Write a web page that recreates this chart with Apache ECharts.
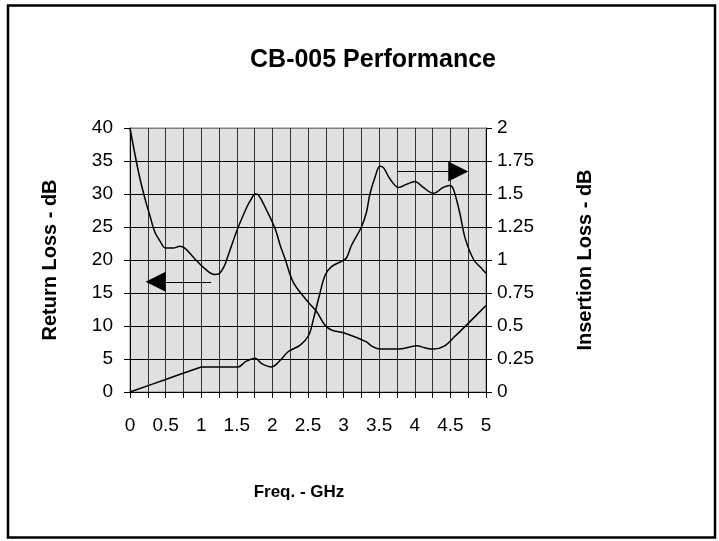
<!DOCTYPE html>
<html>
<head>
<meta charset="utf-8">
<script src="https://cdn.jsdelivr.net/npm/echarts@6/dist/echarts.min.js"></script>
<style>
  html, body { margin: 0; padding: 0; background: #fff; }
  #chart { width: 719px; height: 541px; }
</style>
</head>
<body>
<div id="chart"></div>
<script>
// Return loss (left axis, dB): [GHz, dB]
var returnLoss = [
  [0, 40], [0.12, 33.3], [0.21, 29.3], [0.28, 26.7], [0.35, 24.2], [0.42, 22.9],
  [0.5, 21.8], [0.61, 21.8], [0.7, 22.1], [0.77, 21.8], [0.9, 20.3], [1.05, 18.7],
  [1.19, 17.8], [1.26, 18.0], [1.33, 19.2], [1.36, 20.1], [1.51, 24.7], [1.64, 28.0],
  [1.69, 29.0], [1.76, 30.0], [1.8, 29.9], [1.92, 27.5], [2.04, 24.7], [2.11, 22.2],
  [2.18, 20.1], [2.29, 16.7], [2.48, 13.9], [2.62, 12.2], [2.74, 10.1], [2.83, 9.4],
  [3.02, 8.9], [3.32, 7.6], [3.39, 7.0], [3.51, 6.5], [3.77, 6.5], [4.03, 7.0],
  [4.14, 6.7], [4.26, 6.5], [4.42, 7.0], [4.56, 8.4], [4.75, 10.4], [5, 13.1]
];

// Insertion loss (right axis, dB): [GHz, dB]
var insertionLoss = [
  [0, 0], [0.5, 0.095], [0.95, 0.18], [1.01, 0.19], [1.52, 0.19], [1.59, 0.215],
  [1.62, 0.23], [1.76, 0.255], [1.85, 0.215], [1.99, 0.19], [2.11, 0.24], [2.22, 0.305],
  [2.39, 0.355], [2.51, 0.43], [2.58, 0.56], [2.65, 0.71], [2.74, 0.885], [2.83, 0.95],
  [2.97, 0.99], [3.04, 1.015], [3.11, 1.11], [3.25, 1.25], [3.32, 1.36], [3.37, 1.5],
  [3.44, 1.625], [3.51, 1.71], [3.56, 1.7], [3.65, 1.615], [3.77, 1.55], [3.89, 1.575],
  [4.0, 1.595], [4.12, 1.55], [4.26, 1.505], [4.4, 1.55], [4.49, 1.565], [4.54, 1.54],
  [4.63, 1.36], [4.71, 1.16], [4.83, 1.0], [4.94, 0.935], [5, 0.9]
];

// arrows pointing at the axis each curve belongs to (left-axis dB units)
var leftArrow = [[1.14, 16.7], [0.36, 16.7]];
var rightArrow = [[3.75, 33.4], [4.61, 33.4]];

var chart = echarts.init(document.getElementById("chart"));
var font = "Liberation Sans, Arial, sans-serif";

var leftSplitColors = ["#000", "#000", "#000", "#000", "#000", "#000", "#000", "#000", "#808080"];

var option = {
  animation: false,
  textStyle: { fontFamily: font, color: "#000" },
  title: {
    text: "CB-005 Performance",
    left: 368,
    top: 43,
    textAlign: "center",
    textStyle: { fontFamily: font, fontSize: 25, fontWeight: "bold", color: "#000" }
  },
  graphic: [
    {
      type: "rect",
      shape: { x: 8, y: 5.5, width: 707, height: 532 },
      style: { fill: "none", stroke: "#000", lineWidth: 2.5 },
      silent: true
    }
  ],
  grid: {
    left: 130,
    right: 233,
    top: 128,
    bottom: 149,
    show: true,
    backgroundColor: "#e0e0e0",
    borderColor: "#808080",
    borderWidth: 1
  },
  xAxis: {
    type: "value",
    min: 0,
    max: 5,
    interval: 0.25,
    name: "Freq. - GHz",
    nameLocation: "middle",
    nameGap: 92,
    nameTextStyle: { fontFamily: font, fontSize: 17, fontWeight: "bold", color: "#000", padding: [0, 18, 0, 0] },
    axisLine: { show: true, lineStyle: { color: "#000", width: 1 } },
    axisTick: { show: true, length: 6, lineStyle: { color: "#000" } },
    axisLabel: {
      margin: 24,
      fontSize: 19,
      color: "#000",
      fontFamily: font,
      formatter: function (v) {
        return Math.round(v * 4) % 2 === 0 ? String(v) : "";
      }
    },
    splitLine: { show: true, lineStyle: { color: "#333", width: 1 } }
  },
  yAxis: [
    {
      type: "value",
      min: 0,
      max: 40,
      interval: 5,
      position: "left",
      name: "Return Loss - dB",
      nameLocation: "middle",
      nameGap: 70,
      nameTextStyle: { fontFamily: font, fontSize: 20, fontWeight: "bold", color: "#000" },
      axisLine: { show: true, lineStyle: { color: "#000", width: 1 } },
      axisTick: { show: true, length: 6, lineStyle: { color: "#000" } },
      axisLabel: { margin: 17, fontSize: 19, color: "#000", fontFamily: font },
      splitLine: { show: true, lineStyle: { color: leftSplitColors, width: 1 } }
    },
    {
      type: "value",
      min: 0,
      max: 2,
      interval: 0.25,
      position: "right",
      name: "Insertion Loss - dB",
      nameLocation: "middle",
      nameGap: 89,
      nameTextStyle: { fontFamily: font, fontSize: 20, fontWeight: "bold", color: "#000" },
      axisLine: { show: true, lineStyle: { color: "#000", width: 1 } },
      axisTick: { show: true, length: 6, lineStyle: { color: "#000" } },
      axisLabel: { margin: 11, fontSize: 19, color: "#000", fontFamily: font },
      splitLine: { show: false }
    }
  ],
  series: [
    {
      name: "Return Loss",
      type: "line",
      yAxisIndex: 0,
      data: returnLoss,
      smooth: 0.35,
      showSymbol: false,
      lineStyle: { color: "#000", width: 1.5 },
      markLine: {
        silent: true,
        symbol: ["none", "triangle"],
        symbolSize: [20, 20],
        label: { show: false },
        lineStyle: { color: "#000", width: 1, type: "solid" },
        itemStyle: { color: "#000" },
        data: [
          [{ coord: leftArrow[0] }, { coord: leftArrow[1] }],
          [{ coord: rightArrow[0] }, { coord: rightArrow[1] }]
        ]
      }
    },
    {
      name: "Insertion Loss",
      type: "line",
      yAxisIndex: 1,
      data: insertionLoss,
      smooth: 0.35,
      showSymbol: false,
      lineStyle: { color: "#000", width: 1.5 }
    }
  ]
};

chart.setOption(option);
</script>
</body>
</html>
